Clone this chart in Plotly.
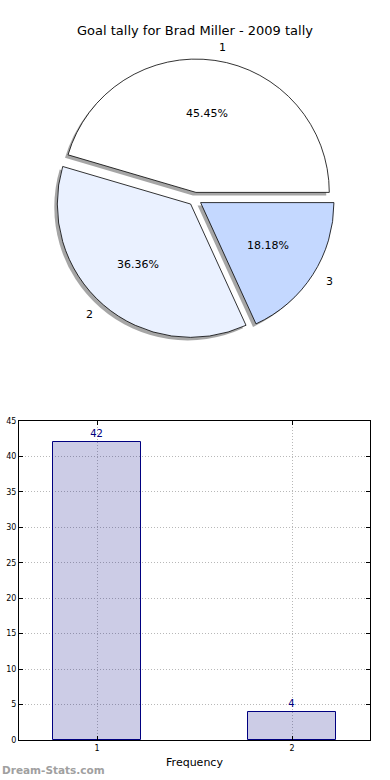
import math
import plotly.graph_objects as go

# ---- data ----
pie_labels = ["1", "2", "3"]
pie_values = [5, 4, 2]
pie_colors = ["#ffffff", "#eaf1ff", "#c4d8ff"]

bar_x = [1, 2]
bar_y = [42, 4]
y_ticks = [0, 5, 10, 15, 20, 25, 30, 35, 40, 45]

title_text = "Goal tally for Brad Miller - 2009 tally"
x_title = "Frequency"
watermark = "Dream-Stats.com"

W, H = 390, 780
FONT = "DejaVu Sans"

def px(x):
    return x / W

def py(y):
    return 1 - y / H

total = sum(pie_values)
# matplotlib-style: first slice starts at 3 o'clock, counterclockwise
rot = 90 - 360 * pie_values[0] / total

pull_amt = 0.05
pull = [pull_amt] * len(pie_values)
cx, cy, half = 195, 199, 140
R = half / (1 + pull_amt)
sh = 3

fig = go.Figure()

common = dict(labels=pie_labels, values=pie_values, sort=False,
              direction="counterclockwise", rotation=rot, pull=pull,
              hoverinfo="skip", showlegend=False, textinfo="none")

# shadow
fig.add_trace(go.Pie(
    **common,
    marker=dict(colors=["rgba(77,77,77,0.5)"] * 3, line=dict(width=0)),
    domain=dict(x=[0, px(2 * (cx - sh))], y=[py(cy + sh + half), py(cy + sh - half)]),
))
# main pie
fig.add_trace(go.Pie(
    **common,
    marker=dict(colors=pie_colors, line=dict(color="black", width=0.8)),
    domain=dict(x=[px(2 * cx - W), 1], y=[py(cy + half), py(cy - half)]),
))

# labels / percentages placed like matplotlib (labeldistance 1.1, pctdistance 0.6)
annots = []
start = 0.0
for lab, v in zip(pie_labels, pie_values):
    frac = v / total
    mid = math.radians(360 * (start + frac / 2))
    start += frac
    c, s = math.cos(mid), math.sin(mid)
    d_lab = (1.1 + pull_amt) * R
    d_pct = (0.6 + pull_amt) * R
    annots.append(dict(text=lab, x=px(cx + d_lab * c), y=py(cy - d_lab * s),
                       xref="paper", yref="paper",
                       xanchor="left" if c > 0 else "right", yanchor="middle",
                       showarrow=False, font=dict(family=FONT, size=11, color="black")))
    annots.append(dict(text=f"{frac * 100:.2f}%", x=px(cx + d_pct * c), y=py(cy - d_pct * s),
                       xref="paper", yref="paper", xanchor="center", yanchor="middle",
                       showarrow=False, font=dict(family=FONT, size=11, color="black")))

annots.append(dict(text=watermark, x=0, y=py(770), xref="paper", yref="paper",
                   xanchor="left", yanchor="middle", showarrow=False,
                   font=dict(family=FONT, size=10.5, color="#a0a0a0", weight="bold")))

# bars
fig.add_trace(go.Bar(
    x=bar_x, y=bar_y, width=0.45,
    marker=dict(color="rgba(0,0,128,0.2)", line=dict(color="#000080", width=1)),
    text=[str(v) for v in bar_y], textposition="outside",
    textfont=dict(family=FONT, size=10, color="#000080"),
    cliponaxis=False, hoverinfo="skip", showlegend=False,
))

fig.update_layout(
    width=W, height=H,
    margin=dict(l=0, r=0, t=0, b=0, autoexpand=False),
    paper_bgcolor="white", plot_bgcolor="rgba(0,0,0,0)",
    font=dict(family=FONT, size=8, color="black"),
    title=dict(text=title_text, x=0.5, xanchor="center", y=py(30), yanchor="middle",
               font=dict(family=FONT, size=13, color="black")),
    xaxis=dict(domain=[px(19), px(370)], range=[0.6, 2.4], tickvals=bar_x,
               ticktext=[str(v) for v in bar_x], automargin=False,
               showgrid=True, gridcolor="#b8b8b8", griddash="1px,2px", gridwidth=1,
               showline=True, linecolor="black", linewidth=1, mirror="ticks",
               ticks="inside", ticklen=4, tickcolor="black", zeroline=False,
               title=dict(text=x_title, font=dict(family=FONT, size=11), standoff=6),
               tickfont=dict(size=8), fixedrange=True),
    yaxis=dict(domain=[py(740), py(421)], range=[0, 45], tickvals=y_ticks,
               automargin=False,
               showgrid=True, gridcolor="#b8b8b8", griddash="1px,2px", gridwidth=1,
               showline=True, linecolor="black", linewidth=1, mirror="ticks",
               ticks="inside", ticklen=4, tickcolor="black", zeroline=False,
               tickfont=dict(size=8), fixedrange=True),
    bargap=0,
    annotations=annots,
)

fig.write_html("out.html", config={"displayModeBar": False},
               post_script="document.body.style.margin='0';document.body.style.padding='0';")
